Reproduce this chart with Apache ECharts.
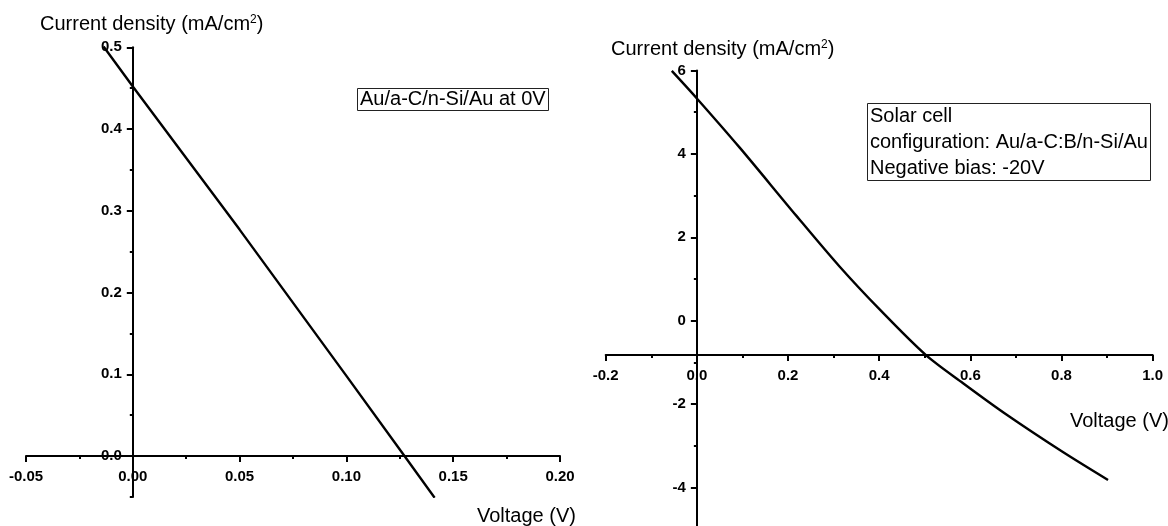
<!DOCTYPE html>
<html>
<head>
<meta charset="utf-8">
<script src="https://cdn.jsdelivr.net/npm/echarts@6/dist/echarts.min.js"></script>
<style>html,body{margin:0;padding:0;background:#fff}#c{width:1168px;height:526px}</style>
</head>
<body>
<div id="c"></div>
<script>
// ---- data ----
const leftVoltage = [-0.0137, 0, 0.05, 0.10, 0.1272, 0.1413];
const leftCurrent = [0.501, 0.452, 0.277, 0.098, 0.0, -0.051];
const rightVoltage = [-0.055, 0, 0.094, 0.218, 0.313, 0.401, 0.502, 0.584, 0.679, 0.803, 0.902];
const rightCurrent = [5.99, 5.33, 4.15, 2.52, 1.30, 0.27, -0.82, -1.50, -2.25, -3.15, -3.82];
const leftYMajorTicks = [0, 0.1, 0.2, 0.3, 0.4, 0.5];
const leftYMinorTicks = [-0.05, 0.05, 0.15, 0.25, 0.35, 0.45];
const rightXAxisCrossing = -0.82; // J value where the right voltage axis is drawn
const leftLegend = 'Au/a-C/n-Si/Au at 0V';
const rightLegend = 'Solar cell\nconfiguration: Au/a-C:B/n-Si/Au\nNegative bias: -20V';

// ---- layout ----
const FONT = 'Liberation Sans, Arial, sans-serif';
const G0 = {left: 26, top: 47.3, width: 534, height: 449.6};
const G1 = {left: 605.7, top: 70.5, width: 547, height: 500.4};
const L = {xmin: -0.05, xmax: 0.2, ymin: -0.05, ymax: 0.5};
const R = {xmin: -0.2, xmax: 1.0, ymin: -6, ymax: 6};
// axis offsets so each axis crosses the other at the same place as in the picture
const offLY = -(0 - L.xmin) / (L.xmax - L.xmin) * G0.width;
const offLX = -(0 - L.ymin) / (L.ymax - L.ymin) * G0.height;
const offRY = -(0 - R.xmin) / (R.xmax - R.xmin) * G1.width;
const offRX = -(rightXAxisCrossing - R.ymin) / (R.ymax - R.ymin) * G1.height;

const pairs = (xs, ys) => xs.map((x, i) => [x, ys[i]]);
const fmt = d => v => (Math.abs(v) < 1e-9 ? 0 : v).toFixed(d);

const lineAx = {show: true, onZero: false, lineStyle: {color: '#000', width: 2}};
const majTick = {show: true, length: 6, lineStyle: {color: '#000', width: 2}};
const minTick = {show: true, splitNumber: 2, length: 3, lineStyle: {color: '#000', width: 2}};
const lab = (d, m) => ({color: '#000', fontFamily: FONT, fontWeight: 'bold', fontSize: 15, margin: m, formatter: fmt(d)});

const chart = echarts.init(document.getElementById('c'));
chart.setOption({
  animation: false,
  backgroundColor: '#fff',
  grid: [
    Object.assign({outerBoundsMode: 'none', containLabel: false}, G0),
    Object.assign({outerBoundsMode: 'none', containLabel: false}, G1)
  ],
  xAxis: [
    {type: 'value', gridIndex: 0, min: L.xmin, max: L.xmax, interval: 0.05, position: 'bottom', offset: offLX,
     axisLine: lineAx, axisTick: majTick, minorTick: minTick, splitLine: {show: false}, minorSplitLine: {show: false},
     axisLabel: lab(2, 13)},
    {type: 'value', gridIndex: 1, min: R.xmin, max: R.xmax, interval: 0.2, position: 'bottom', offset: offRX,
     axisLine: lineAx, axisTick: majTick, minorTick: minTick,
     splitLine: {show: false}, minorSplitLine: {show: false},
     axisLabel: lab(1, 13)}
  ],
  yAxis: [
    {type: 'value', gridIndex: 0, min: L.ymin, max: L.ymax, position: 'left', offset: offLY,
     axisLine: lineAx, axisTick: Object.assign({}, majTick, {customValues: leftYMajorTicks}),
     splitLine: {show: false},
     axisLabel: Object.assign(lab(1, 11), {customValues: leftYMajorTicks})},
    {type: 'value', gridIndex: 0, min: L.ymin, max: L.ymax, position: 'left', offset: offLY,
     axisLine: {show: false, onZero: false},
     axisTick: {show: true, length: 3, lineStyle: {color: '#000', width: 2}, customValues: leftYMinorTicks},
     splitLine: {show: false}, axisLabel: {show: false}},
    {type: 'value', gridIndex: 1, min: R.ymin, max: R.ymax, interval: 2, position: 'left', offset: offRY,
     axisLine: lineAx, axisTick: majTick, minorTick: minTick, splitLine: {show: false}, minorSplitLine: {show: false},
     axisLabel: lab(0, 11)}
  ],
  title: [
    {text: 'Current density (mA/cm{s|2})', left: 40, top: 14, padding: 0,
     textStyle: {fontFamily: FONT, fontWeight: 'normal', fontSize: 20, color: '#000', rich: {s: {fontSize: 12, verticalAlign: 'top', fontFamily: FONT, color: '#000'}}}},
    {text: 'Current density (mA/cm{s|2})', left: 611, top: 39, padding: 0,
     textStyle: {fontFamily: FONT, fontWeight: 'normal', fontSize: 20, color: '#000', rich: {s: {fontSize: 12, verticalAlign: 'top', fontFamily: FONT, color: '#000'}}}},
    {text: 'Voltage (V)', left: 477, top: 506, padding: 0,
     textStyle: {fontFamily: FONT, fontWeight: 'normal', fontSize: 20, color: '#000'}},
    {text: 'Voltage (V)', left: 1070, top: 411, padding: 0,
     textStyle: {fontFamily: FONT, fontWeight: 'normal', fontSize: 20, color: '#000'}},
    {text: leftLegend, left: 357, top: 88, padding: [1, 3, 1, 3], borderColor: '#222', borderWidth: 1,
     textStyle: {fontFamily: FONT, fontWeight: 'normal', fontSize: 20, lineHeight: 21, color: '#000'}},
    {text: rightLegend, left: 867, top: 103, padding: [0, 3, 0, 3], borderColor: '#222', borderWidth: 1,
     textStyle: {fontFamily: FONT, fontWeight: 'normal', fontSize: 20, lineHeight: 26, color: '#000'}}
  ],
  series: [
    {type: 'line', xAxisIndex: 0, yAxisIndex: 0, data: pairs(leftVoltage, leftCurrent),
     showSymbol: false, smooth: false, lineStyle: {color: '#000', width: 2.4}},
    {type: 'line', xAxisIndex: 1, yAxisIndex: 2, data: pairs(rightVoltage, rightCurrent),
     showSymbol: false, smooth: 0.3, lineStyle: {color: '#000', width: 2.4}}
  ]
});
</script>
</body>
</html>
